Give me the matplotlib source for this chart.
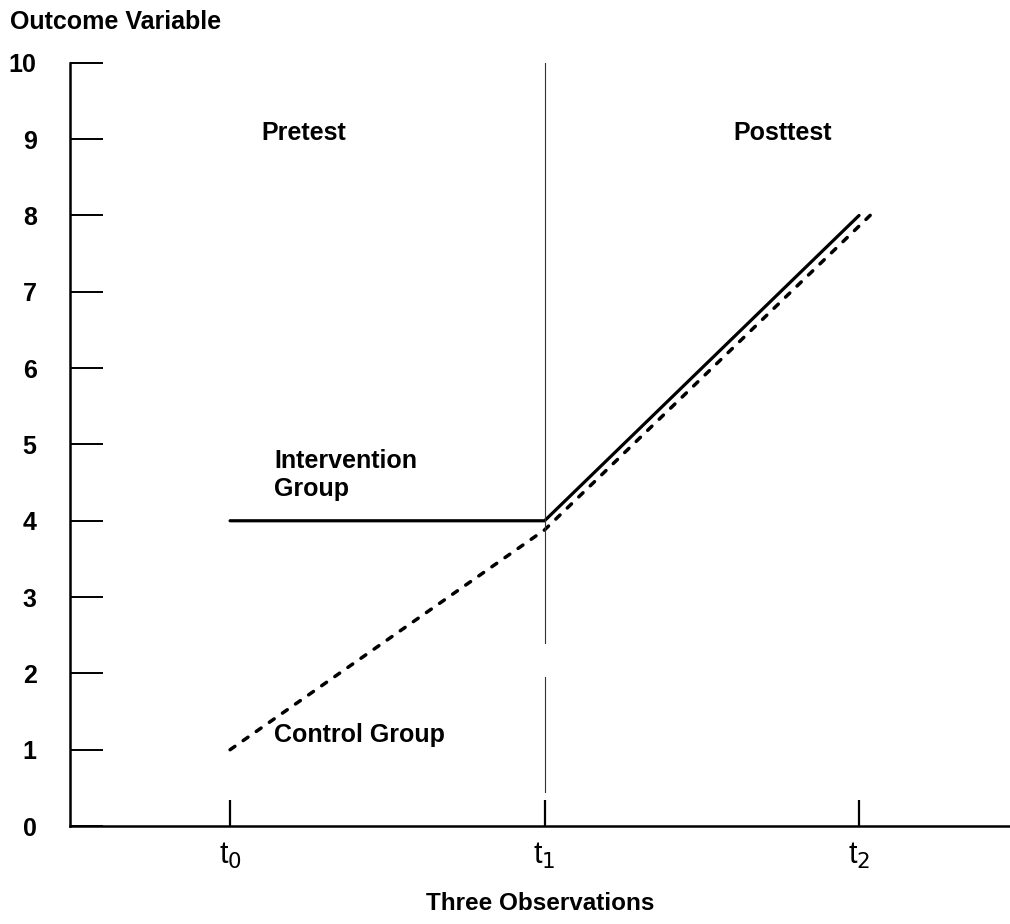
import numpy as np
import matplotlib.pyplot as plt

plt.rcParams['font.family'] = ['Liberation Sans', 'DejaVu Sans']

# observation times (t0, t1, t2) and group values
obs = [1, 2, 3]
obs_labels = ['t$_0$', 't$_1$', 't$_2$']
intervention_x = [1, 2, 3]
intervention_y = [4, 4, 8]
control_x = [1, 2, 3.04]
control_y = [1, 3.88, 8.02]
yticks = list(range(0, 11))

fig = plt.figure(figsize=(10.1, 9.24), dpi=100)
ax = fig.add_axes([0.0693, 0.106, 0.9307, 0.826])

ax.plot(intervention_x, intervention_y, color='black', lw=2.3, solid_capstyle='round')
ax.plot(control_x, control_y, color='black', lw=2.5, linestyle=(0, (1.7, 2.9)),
        dash_capstyle='round')

# divider between pretest and posttest (gap as in the scan)
ax.plot([2, 2], [2.4, 10.0], color='#333333', lw=0.8, clip_on=False)
ax.plot([2, 2], [0.45, 1.95], color='#333333', lw=0.8)

ax.set_xlim(0.491, 3.48)
ax.set_ylim(0, 10)

for s in ['top', 'right']:
    ax.spines[s].set_visible(False)
for s in ['left', 'bottom']:
    ax.spines[s].set_linewidth(1.8)

ax.set_yticks(yticks)
ax.set_yticklabels([str(v) for v in yticks], fontsize=18, fontweight='bold')
ax.tick_params(axis='y', direction='in', length=24, width=1.4, pad=24)

ax.set_xticks(obs)
ax.set_xticklabels(obs_labels, fontsize=22)
ax.tick_params(axis='x', direction='in', length=19, width=1.6, pad=11)

ax.set_xlabel('Three Observations', fontsize=17.5, fontweight='bold', labelpad=15)
fig.text(0.01, 0.976, 'Outcome Variable', fontsize=18, fontweight='bold',
         va='center', ha='left')

txt = dict(fontsize=18, fontweight='bold', va='center')
ax.text(1.1, 9.08, 'Pretest', **txt)
ax.text(2.6, 9.08, 'Posttest', **txt)
ax.text(1.14, 4.6, 'Intervention\nGroup', linespacing=1.2, **txt)
ax.text(1.14, 1.19, 'Control Group', **txt)

fig.savefig('out.png', dpi=100)
